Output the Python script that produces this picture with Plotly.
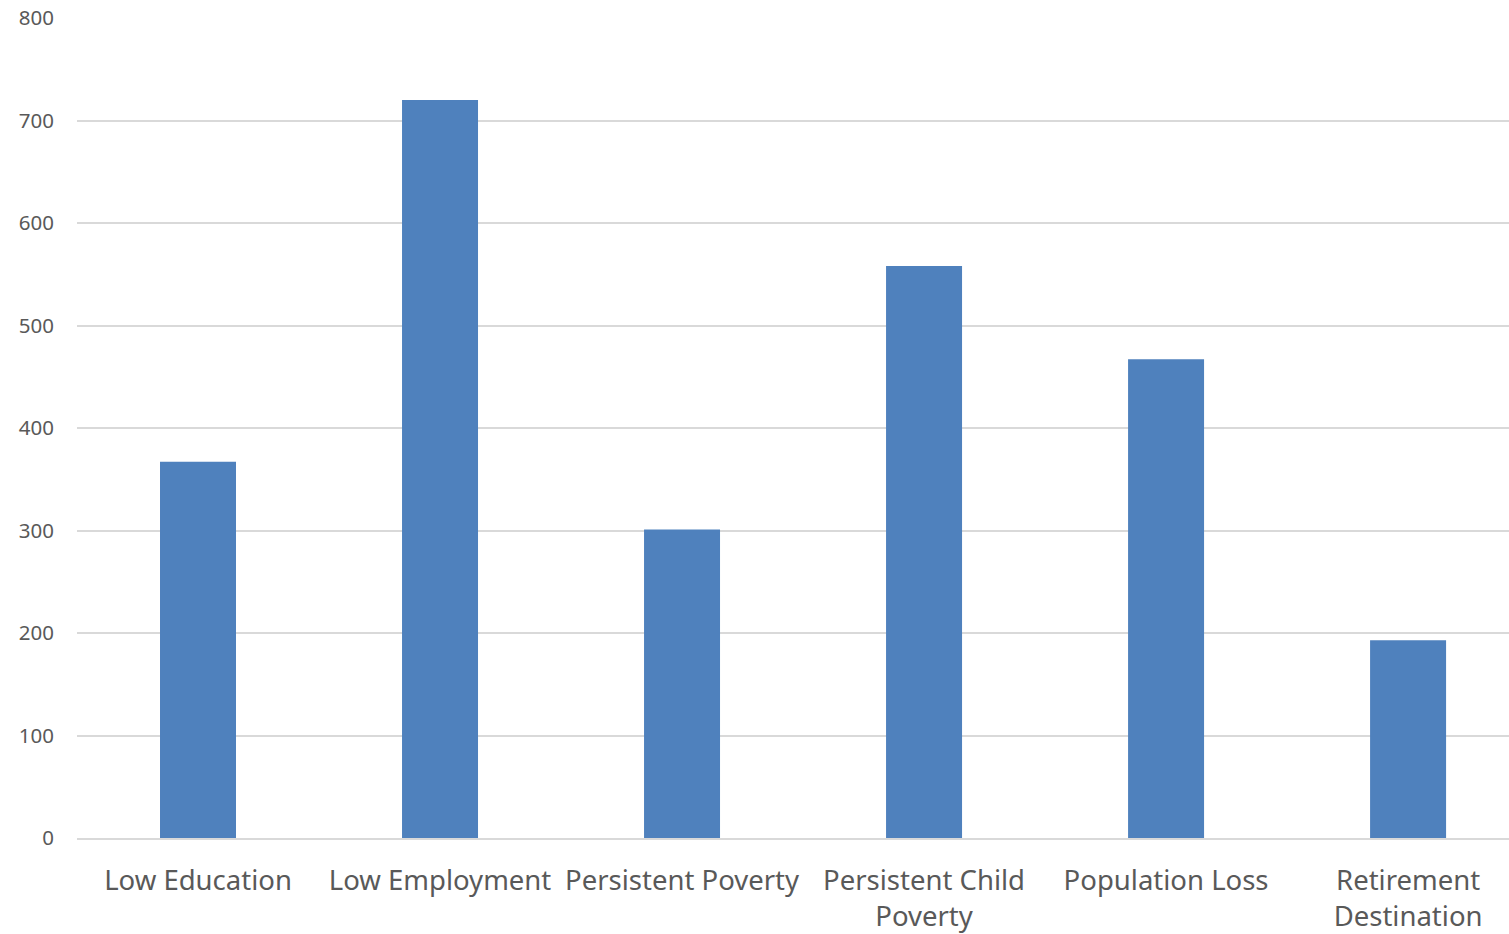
import plotly.graph_objects as go

categories = ["Low Education", "Low Employment", "Persistent Poverty",
              "Persistent Child<br>Poverty", "Population Loss", "Retirement<br>Destination"]
values = [367, 720, 301, 558, 467, 193]
y_ticks = [0, 100, 200, 300, 400, 500, 600, 700, 800]

fig = go.Figure(go.Bar(x=categories, y=values, marker=dict(color="#4f81bd", line=dict(width=0)),
                       width=0.314))

fig.update_layout(
    width=1509, height=934,
    margin=dict(l=77, r=0, t=18, b=96),
    paper_bgcolor="white", plot_bgcolor="white",
    showlegend=False,
    font=dict(family="Noto Sans", color="#595959"),
)
fig.update_yaxes(range=[0, 800], tickvals=y_ticks, showgrid=True, gridcolor="#d9d9d9", gridwidth=1.5,
                 zeroline=False, tickfont=dict(size=20.5, color="#595959"), ticklabelstandoff=22,
                 showline=False)
fig.update_xaxes(showline=True, linecolor="#d9d9d9", linewidth=1.5, tickfont=dict(size=27.5, color="#595959"),
                 ticklabelstandoff=17, range=[-0.5, 5.417])

fig.write_html("out.html")
